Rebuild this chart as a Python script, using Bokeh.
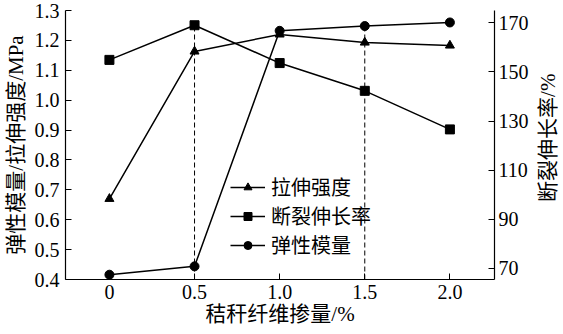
import math
from bokeh.plotting import figure
from bokeh.layouts import row
from bokeh.models import (Range1d, LinearAxis, FixedTicker, Legend, LegendItem,
                          NumeralTickFormatter)
from bokeh.core.properties import value
from bokeh.embed import file_html
from bokeh.resources import INLINE

# Data
fiber = [0, 0.5, 1.0, 1.5, 2.0]                       # 秸秆纤维掺量/%
tensile = [0.67, 1.163, 1.22, 1.193, 1.183]           # 拉伸强度 MPa (left)
modulus = [0.416, 0.444, 1.232, 1.248, 1.26]          # 弹性模量 MPa (left)
elong = [154.9, 169.0, 153.6, 142.3, 126.6]           # 断裂伸长率 % (right)
x_ticks = [0, 0.5, 1.0, 1.5, 2.0]
left_ticks = [0.4, 0.5, 0.6, 0.7, 0.8, 0.9, 1.0, 1.1, 1.2, 1.3]
right_ticks = [70, 90, 110, 130, 150, 170]
series_names = ["拉伸强度", "断裂伸长率", "弹性模量"]
right_title = "断裂伸长率/%"

SERIF = "Liberation Serif"
MIX = "Liberation Serif, Noto Sans CJK SC"

p = figure(width=531, height=334, output_backend="svg", toolbar_location=None,
           x_range=Range1d(-0.258, 2.262), y_range=Range1d(0.4, 1.3),
           min_border_left=63, min_border_right=36, min_border_top=10, min_border_bottom=55)
p.extra_y_ranges = {"right": Range1d(65.5, 175)}
p.outline_line_color = None
p.grid.visible = False
p.background_fill_color = "white"

# dashed guides
p.segment(x0=[fiber[1]], y0=[65.5], x1=[fiber[1]], y1=[elong[1]], y_range_name="right",
          line_color="black", line_width=1, line_dash="5 3")
p.segment(x0=[fiber[3]], y0=[0.4], x1=[fiber[3]], y1=[modulus[3]],
          line_color="black", line_width=1, line_dash="5 3")

l1 = p.line(fiber, tensile, line_color="black", line_width=1.5)
s1 = p.scatter(fiber, tensile, marker="triangle", size=9, color="black")
l2 = p.line(fiber, elong, line_color="black", line_width=1.5, y_range_name="right")
s2 = p.scatter(fiber, elong, marker="square", size=9, color="black", y_range_name="right")
l3 = p.line(fiber, modulus, line_color="black", line_width=1.5)
s3 = p.scatter(fiber, modulus, marker="circle", size=9, color="black")

def style_axis(ax):
    ax.axis_line_color = "black"
    ax.axis_line_width = 1.2
    ax.major_tick_line_color = "black"
    ax.major_tick_in = 6
    ax.major_tick_out = 0
    ax.minor_tick_line_color = None
    ax.major_label_text_font = SERIF
    ax.major_label_text_font_size = "20px"
    ax.major_label_text_color = "black"
    ax.axis_label_text_font = MIX
    ax.axis_label_text_font_size = "21px"
    ax.axis_label_text_font_style = "normal"
    ax.axis_label_text_color = "black"

xa = p.xaxis[0]
xa.ticker = FixedTicker(ticks=x_ticks)
xa.formatter = NumeralTickFormatter(format="0.0")
xa.major_label_overrides = {0: "0"}
xa.axis_label = "秸秆纤维掺量/%"
style_axis(xa)
xa.major_label_standoff = 5
xa.axis_label_standoff = 0

ya = p.yaxis[0]
ya.ticker = FixedTicker(ticks=left_ticks)
ya.formatter = NumeralTickFormatter(format="0.0")
ya.axis_label = "弹性模量/拉伸强度/MPa"
style_axis(ya)
ya.major_label_standoff = 6
ya.axis_label_standoff = 4

ra = LinearAxis(y_range_name="right", ticker=FixedTicker(ticks=right_ticks))
style_axis(ra)
ra.major_label_standoff = 4
p.add_layout(ra, "right")

rows = [(series_names[0], [l1, s1], 78), (series_names[1], [l2, s2], 49), (series_names[2], [l3, s3], 20)]
for name, rends, ypos in rows:
    lg = Legend(items=[LegendItem(label=name, renderers=rends)], location=(165, ypos))
    lg.background_fill_alpha = 0
    lg.border_line_color = None
    lg.label_text_font = "Noto Sans CJK SC"
    lg.label_text_font_size = "20px"
    lg.label_text_color = "black"
    lg.glyph_width = 35
    lg.glyph_height = 20
    lg.label_height = 20
    lg.padding = 0
    lg.margin = 0
    lg.label_standoff = 6
    p.add_layout(lg)

# strip holding the right axis title (reads bottom-to-top)
q = figure(width=32, height=334, output_backend="svg", toolbar_location=None,
           x_range=Range1d(0, 32), y_range=Range1d(0, 334), min_border=0)
q.axis.visible = False
q.grid.visible = False
q.outline_line_color = None
q.text(x=[16], y=[176], text=[right_title], angle=math.pi / 2,
       text_align="center", text_baseline="middle",
       text_font=value(MIX), text_font_size="21px", text_color="black")

layout = row(p, q, spacing=0)
open("out.html", "w").write(file_html(layout, INLINE))
